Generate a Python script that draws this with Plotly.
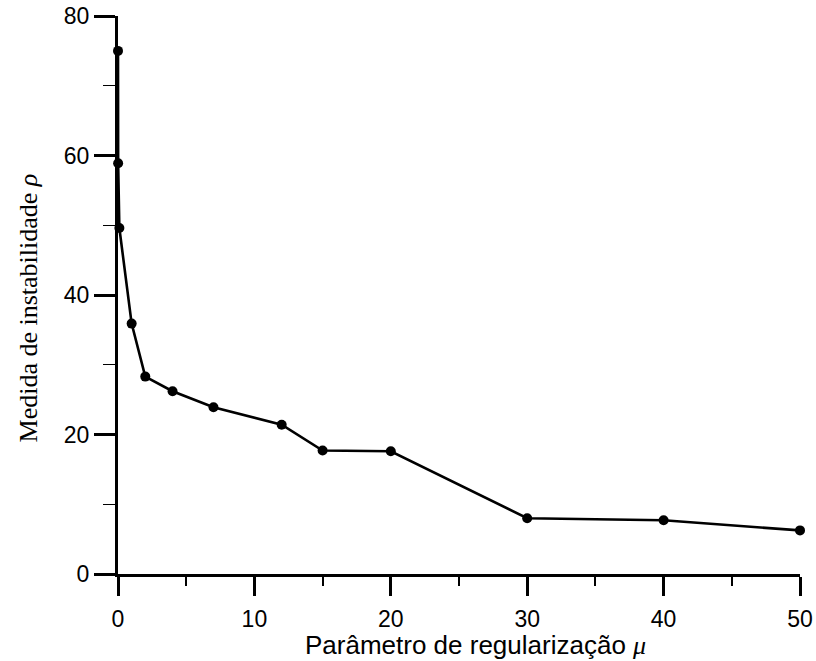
import plotly.graph_objects as go

# Data
mu = [0.0, 0.01, 0.1, 1, 2, 4, 7, 12, 15, 20, 30, 40, 50]
rho = [75.0, 58.9, 49.6, 35.9, 28.3, 26.2, 23.9, 21.4, 17.7, 17.6, 8.0, 7.7, 6.25]

x_ticks = [0, 10, 20, 30, 40, 50]
y_ticks = [0, 20, 40, 60, 80]

x_title = 'Parâmetro de regularização <span style="font-family:Liberation Serif, Times New Roman, serif"><i>μ</i></span>'
y_title = 'Medida de instabilidade <i>ρ</i>'

fig = go.Figure()
fig.add_trace(go.Scatter(
    x=mu, y=rho, mode="lines+markers",
    line=dict(color="black", width=2.6),
    marker=dict(color="black", size=10),
    cliponaxis=False, showlegend=False,
))

tick_font = dict(family="Arial, Liberation Sans, sans-serif", size=23, color="black")

fig.update_layout(
    width=816, height=661,
    margin=dict(l=118, r=16, t=16, b=87, autoexpand=False),
    paper_bgcolor="white", plot_bgcolor="white",
    xaxis=dict(
        range=[0, 50], tickvals=x_ticks, ticktext=[str(v) for v in x_ticks],
        showgrid=False, zeroline=False, automargin=False,
        showline=True, linecolor="black", linewidth=3,
        ticks="outside", ticklen=19, tickwidth=3, tickcolor="black",
        ticklabelstandoff=3,
        minor=dict(dtick=5, tick0=0, ticks="outside", ticklen=9, tickwidth=2, tickcolor="black", showgrid=False),
        tickfont=tick_font,
    ),
    yaxis=dict(
        range=[0, 80], tickvals=y_ticks, ticktext=[str(v) for v in y_ticks],
        showgrid=False, zeroline=False, automargin=False,
        showline=True, linecolor="black", linewidth=3,
        ticks="outside", ticklen=21, tickwidth=3, tickcolor="black",
        minor=dict(dtick=10, tick0=0, ticks="outside", ticklen=12, tickwidth=1, tickcolor="black", showgrid=False),
        tickfont=tick_font,
    ),
    annotations=[
        dict(text=x_title, xref="paper", yref="paper", x=0.524, y=-0.127,
             xanchor="center", yanchor="middle", showarrow=False,
             font=dict(family="Arial, Liberation Sans, sans-serif", size=26, color="black")),
        dict(text=y_title, xref="paper", yref="paper", x=-0.131, y=0.477,
             xanchor="center", yanchor="middle", showarrow=False, textangle=-90,
             font=dict(family="Liberation Serif, Times New Roman, serif", size=26, color="black")),
    ],
)

fig.write_html("out.html")
